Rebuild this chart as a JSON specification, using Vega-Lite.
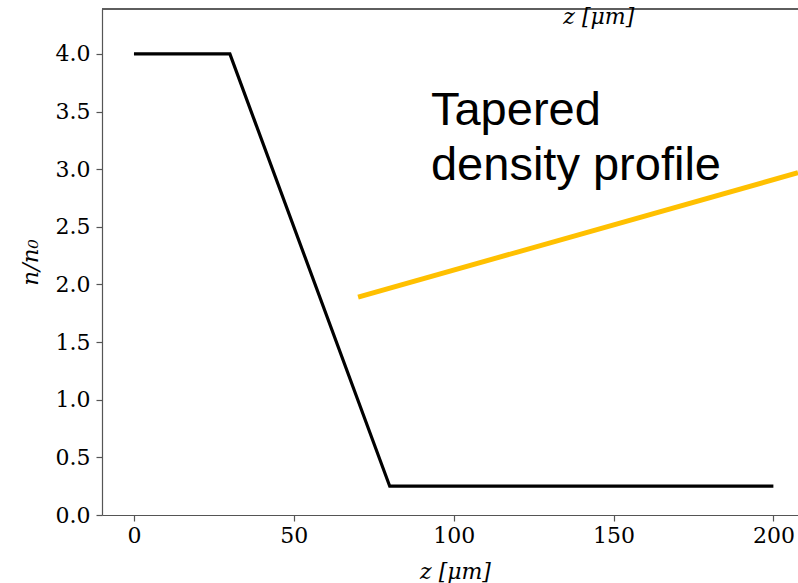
{
  "$schema": "https://vega.github.io/schema/vega-lite/v6.json",
  "width": 696,
  "height": 506,
  "autosize": "none",
  "padding": {"left": 102, "top": 9, "right": 0, "bottom": 68},
  "background": "white",
  "config": {"view": {"stroke": null}},
  "datasets": {
    "profile": [
      {"z": 0, "n": 4.0},
      {"z": 30, "n": 4.0},
      {"z": 80, "n": 0.25},
      {"z": 200, "n": 0.25}
    ],
    "arrow": [
      {"z": 70.1, "n": 1.89},
      {"z": 207.7, "n": 2.97}
    ],
    "labels": [
      {"z": 92.9, "n": 3.384, "label": ["Tapered", "density profile"]}
    ],
    "toplabel": [
      {"z": 145.4, "n": 4.32, "label": "z [μm]"}
    ]
  },
  "layer": [
    {
      "data": {"name": "profile"},
      "mark": {"type": "line", "color": "#000000", "strokeWidth": 3.2},
      "encoding": {
        "x": {
          "field": "z", "type": "quantitative",
          "scale": {"domain": [-10, 207.7], "nice": false, "zero": false},
          "axis": {
            "title": "z [μm]",
            "titleFont": "DejaVu Serif", "titleFontStyle": "italic", "titleFontWeight": "normal",
            "titleFontSize": 22, "titleColor": "#000",
            "titleX": 353, "titleY": 56, "titleAlign": "center", "titleBaseline": "middle",
            "values": [0, 50, 100, 150, 200],
            "labelFont": "DejaVu Serif", "labelFontSize": 22, "labelColor": "#000",
            "labelPadding": 4, "tickSize": 6, "tickColor": "#555", "domainColor": "#555",
            "tickWidth": 1.2, "domainWidth": 1.2, "grid": false, "labelFlush": false
          }
        },
        "y": {
          "field": "n", "type": "quantitative",
          "scale": {"domain": [0, 4.39], "nice": false},
          "axis": {
            "title": "n/n₀",
            "titleFont": "DejaVu Serif", "titleFontStyle": "italic", "titleFontWeight": "normal",
            "titleFontSize": 23, "titleColor": "#000",
            "titleX": -72, "titleY": 253, "titleAlign": "center", "titleBaseline": "middle", "titleAngle": -90,
            "values": [0, 0.5, 1, 1.5, 2, 2.5, 3, 3.5, 4],
            "format": ".1f",
            "labelFont": "DejaVu Serif", "labelFontSize": 22, "labelColor": "#000",
            "labelPadding": 6, "tickSize": 6, "tickColor": "#555", "domainColor": "#555",
            "tickWidth": 1.2, "domainWidth": 1.2, "grid": false, "labelFlush": false
          }
        }
      }
    },
    {
      "data": {"name": "profile"},
      "mark": {"type": "rule", "color": "#555", "strokeWidth": 1.2},
      "encoding": {"y": {"datum": 4.39}}
    },
    {
      "data": {"name": "arrow"},
      "mark": {"type": "line", "color": "#FFC000", "strokeWidth": 5},
      "encoding": {
        "x": {"field": "z", "type": "quantitative"},
        "y": {"field": "n", "type": "quantitative"}
      }
    },
    {
      "data": {"name": "labels"},
      "mark": {"type": "text", "font": "Liberation Sans", "fontSize": 47, "align": "left", "baseline": "alphabetic", "lineHeight": 55, "color": "#000"},
      "encoding": {
        "x": {"field": "z", "type": "quantitative"},
        "y": {"field": "n", "type": "quantitative"},
        "text": {"field": "label"}
      }
    },
    {
      "data": {"name": "toplabel"},
      "mark": {"type": "text", "font": "DejaVu Serif", "fontStyle": "italic", "fontSize": 22, "align": "center", "baseline": "middle", "color": "#000"},
      "encoding": {
        "x": {"field": "z", "type": "quantitative"},
        "y": {"field": "n", "type": "quantitative"},
        "text": {"field": "label"}
      }
    }
  ]
}
